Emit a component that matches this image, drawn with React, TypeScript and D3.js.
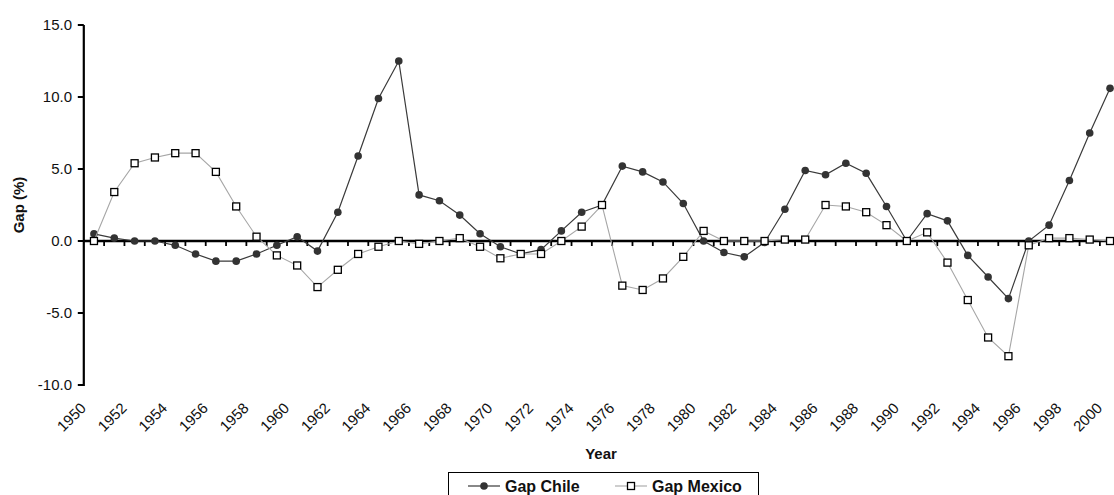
import * as d3 from "d3";

const years = d3.range(1950, 2001);

const gapChile = [
  0.5, 0.2, 0.0, 0.0, -0.3, -0.9, -1.4, -1.4, -0.9, -0.3,
  0.3, -0.7, 2.0, 5.9, 9.9, 12.5, 3.2, 2.8, 1.8, 0.5,
  -0.4, -0.9, -0.6, 0.7, 2.0, 2.5, 5.2, 4.8, 4.1, 2.6,
  0.0, -0.8, -1.1, -0.1, 2.2, 4.9, 4.6, 5.4, 4.7, 2.4,
  0.0, 1.9, 1.4, -1.0, -2.5, -4.0, 0.0, 1.1, 4.2, 7.5,
  10.6,
];

const gapMexico = [
  0.0, 3.4, 5.4, 5.8, 6.1, 6.1, 4.8, 2.4, 0.3, -1.0,
  -1.7, -3.2, -2.0, -0.9, -0.4, 0.0, -0.2, 0.0, 0.2, -0.4,
  -1.2, -0.9, -0.9, 0.0, 1.0, 2.5, -3.1, -3.4, -2.6, -1.1,
  0.7, 0.0, 0.0, 0.0, 0.1, 0.1, 2.5, 2.4, 2.0, 1.1,
  0.0, 0.6, -1.5, -4.1, -6.7, -8.0, -0.3, 0.2, 0.2, 0.1,
  0.0,
];

const yTicks = [-10, -5, 0, 5, 10, 15];

const W = 1114;
const H = 495;
const FONT = "'Liberation Sans', Arial, sans-serif";
const PLOT = { left: 83.8, right: 1120.2, top: 25, bottom: 385 };

export default function App() {
  const x = d3
    .scaleBand<number>()
    .domain(years)
    .range([PLOT.left, PLOT.right])
    .paddingInner(0)
    .paddingOuter(0);
  const bw = x.bandwidth();
  const cx = (yr: number) => (x(yr) ?? 0) + bw / 2;

  const y = d3.scaleLinear().domain([-10, 15]).range([PLOT.bottom, PLOT.top]);

  const line = d3
    .line<number>()
    .x((_, i) => cx(years[i]))
    .y((d) => y(d));

  const y0 = y(0);

  // category boundaries for tick marks
  const boundaries = years.map((yr) => x(yr) ?? 0).slice(1);

  return (
    <svg
      width={W}
      height={H}
      style={{ position: "absolute", left: 0, top: 0, background: "#fff" }}
      fontFamily={FONT}
    >
      {/* Y axis */}
      <line
        x1={PLOT.left}
        x2={PLOT.left}
        y1={y(15)}
        y2={y(-10) + 1}
        stroke="#000"
        strokeWidth={2.2}
      />
      {yTicks.map((t) => (
        <g key={t}>
          <line
            x1={PLOT.left - 6}
            x2={PLOT.left}
            y1={y(t)}
            y2={y(t)}
            stroke="#000"
            strokeWidth={2}
          />
          <text
            x={72}
            y={y(t)}
            dy="0.36em"
            textAnchor="end"
            fontSize={15}
            fill="#111"
          >
            {t.toFixed(1)}
          </text>
        </g>
      ))}

      {/* X axis on zero line */}
      <line
        x1={PLOT.left}
        x2={PLOT.right}
        y1={y0}
        y2={y0}
        stroke="#000"
        strokeWidth={2.6}
      />
      {boundaries.map((bx, i) => (
        <line
          key={i}
          x1={bx}
          x2={bx}
          y1={y0}
          y2={y0 + 5}
          stroke="#000"
          strokeWidth={1.8}
        />
      ))}
      {years
        .filter((yr) => (yr - 1950) % 2 === 0)
        .map((yr) => (
          <text
            key={yr}
            transform={`translate(${cx(yr) - 7},${PLOT.bottom + 24}) rotate(-45)`}
            textAnchor="end"
            fontSize={15}
            fill="#111"
          >
            {yr}
          </text>
        ))}

      {/* Axis titles */}
      <text
        transform={`translate(24,${(PLOT.top + PLOT.bottom) / 2}) rotate(-90)`}
        textAnchor="middle"
        fontSize={15}
        fontWeight="bold"
        fill="#111"
      >
        Gap (%)
      </text>
      <text
        x={601}
        y={459}
        textAnchor="middle"
        fontSize={15}
        fontWeight="bold"
        fill="#111"
      >
        Year
      </text>

      {/* Gap Chile */}
      <path d={line(gapChile) ?? ""} fill="none" stroke="#3a3a3a" strokeWidth={1.2} />
      {gapChile.map((v, i) => (
        <circle key={i} cx={cx(years[i])} cy={y(v)} r={3.8} fill="#333" />
      ))}

      {/* Gap Mexico */}
      <path d={line(gapMexico) ?? ""} fill="none" stroke="#a6a6a6" strokeWidth={1.1} />
      {gapMexico.map((v, i) => (
        <rect
          key={i}
          x={cx(years[i]) - 3.5}
          y={y(v) - 3.5}
          width={7}
          height={7}
          fill="#fff"
          stroke="#000"
          strokeWidth={1.3}
        />
      ))}

      {/* Legend */}
      <g>
        <rect x={448.5} y={472.5} width={310} height={40} fill="#fff" stroke="#000" strokeWidth={1} />
        <line x1={468} x2={500} y1={486} y2={486} stroke="#3a3a3a" strokeWidth={1.2} />
        <circle cx={484} cy={486} r={3.8} fill="#333" />
        <text x={505} y={492} fontSize={16} fontWeight="bold" fill="#111">
          Gap Chile
        </text>
        <line x1={615} x2={647} y1={486} y2={486} stroke="#a6a6a6" strokeWidth={1.1} />
        <rect x={627.5} y={482.5} width={7} height={7} fill="#fff" stroke="#000" strokeWidth={1.3} />
        <text x={652} y={492} fontSize={16} fontWeight="bold" fill="#111">
          Gap Mexico
        </text>
      </g>
    </svg>
  );
}
